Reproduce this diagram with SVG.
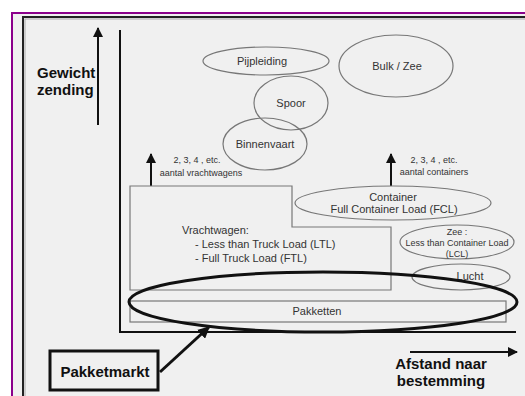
<svg xmlns="http://www.w3.org/2000/svg" width="525" height="396" viewBox="0 0 525 396">
<defs>
<style>
.ax{stroke:#111;stroke-width:2;fill:none}
.ell{fill:none;stroke:#777;stroke-width:1.2}
.box{fill:none;stroke:#777;stroke-width:1.2}
.lbl{font-family:"Liberation Sans",Arial,sans-serif;font-size:11px;fill:#333}
.sm{font-family:"Liberation Sans",Arial,sans-serif;font-size:9px;fill:#333}
.bold{font-family:"Liberation Sans",Arial,sans-serif;font-weight:bold;font-size:15px;fill:#111}
</style>
<marker id="ah" viewBox="0 0 10 10" refX="9" refY="5" markerWidth="5" markerHeight="5" orient="auto" markerUnits="strokeWidth">
<path d="M0,0 L10,5 L0,10 z" fill="#111"/>
</marker>
<marker id="ahs" viewBox="0 0 10 10" refX="9" refY="5" markerWidth="4" markerHeight="4" orient="auto" markerUnits="strokeWidth">
<path d="M0,0 L10,5 L0,10 z" fill="#111"/>
</marker>
</defs>
<rect x="0" y="0" width="525" height="396" fill="#fff"/>
<rect x="12" y="13" width="520" height="390" fill="#f0f0f0" stroke="#8b008b" stroke-width="2"/>
<rect x="23" y="17" width="510" height="390" fill="#f0f0f0" stroke="#222" stroke-width="2"/>
<rect x="25" y="19" width="510" height="390" fill="none" stroke="#aaa" stroke-width="1"/>

<g id="axes">
<line class="ax" x1="120" y1="30" x2="120" y2="332"/>
<line class="ax" x1="119" y1="332" x2="516" y2="332"/>
</g>

<g id="y-label">
<text class="bold" x="37" y="78" font-size="14">Gewicht</text>
<text class="bold" x="37" y="95" font-size="14">zending</text>
</g>
<g id="x-label">
<text class="bold" x="441" y="369" text-anchor="middle">Afstand naar</text>
<text class="bold" x="441" y="386" text-anchor="middle">bestemming</text>
</g>

<g id="connectors">
<line x1="98" y1="125" x2="98" y2="28" stroke="#111" stroke-width="2" marker-end="url(#ah)"/>
<line x1="410" y1="352" x2="517" y2="352" stroke="#111" stroke-width="2" marker-end="url(#ah)"/>
<line x1="151" y1="186" x2="151" y2="154" stroke="#111" stroke-width="2" marker-end="url(#ah)"/>
<line x1="391" y1="186" x2="391" y2="154" stroke="#111" stroke-width="2" marker-end="url(#ah)"/>
<line x1="160" y1="372" x2="209" y2="327" stroke="#111" stroke-width="3" marker-end="url(#ahs)"/>
</g>

<g id="trucks-note">
<text class="sm" x="197" y="163" text-anchor="middle">2, 3, 4 , etc.</text>
<text class="sm" x="201" y="176" text-anchor="middle">aantal vrachtwagens</text>
</g>
<g id="containers-note">
<text class="sm" x="434" y="163" text-anchor="middle">2, 3, 4 , etc.</text>
<text class="sm" x="434" y="175" text-anchor="middle">aantal containers</text>
</g>

<g id="pijpleiding">
<ellipse class="ell" cx="266" cy="61" rx="63" ry="14"/>
<text class="lbl" x="262" y="65" text-anchor="middle">Pijpleiding</text>
</g>
<g id="bulk">
<ellipse class="ell" cx="396" cy="66" rx="57" ry="31"/>
<text class="lbl" x="397" y="70" text-anchor="middle">Bulk / Zee</text>
</g>
<g id="spoor">
<ellipse class="ell" cx="291" cy="103" rx="37" ry="27"/>
<text class="lbl" x="291" y="107" text-anchor="middle">Spoor</text>
</g>
<g id="binnenvaart">
<ellipse class="ell" cx="265" cy="144" rx="42" ry="26"/>
<text class="lbl" x="265" y="148" text-anchor="middle">Binnenvaart</text>
</g>

<g id="vrachtwagen">
<polygon class="box" points="130,186 292,186 292,227 391,227 391,290 130,290"/>
<text class="lbl" x="182" y="234">Vrachtwagen:</text>
<text class="lbl" x="195" y="248">- Less than Truck Load (LTL)</text>
<text class="lbl" x="195" y="262">- Full Truck Load (FTL)</text>
</g>

<g id="container">
<ellipse class="ell" cx="393" cy="203" rx="98" ry="17"/>
<text class="lbl" x="393" y="201" text-anchor="middle">Container</text>
<text class="lbl" x="394" y="213" text-anchor="middle">Full Container Load (FCL)</text>
</g>

<g id="zee-lcl">
<ellipse class="ell" cx="457" cy="242" rx="57" ry="17"/>
<text class="sm" x="457" y="235" text-anchor="middle">Zee :</text>
<text class="sm" x="457" y="246" text-anchor="middle">Less than Container Load</text>
<text class="sm" x="457" y="257" text-anchor="middle">(LCL)</text>
</g>

<g id="lucht">
<ellipse class="ell" cx="461" cy="277" rx="49" ry="13"/>
<text class="lbl" x="470" y="280" text-anchor="middle">Lucht</text>
</g>

<g id="pakketten">
<rect class="box" x="130" y="301" width="376" height="21"/>
<text class="lbl" x="317" y="315" text-anchor="middle">Pakketten</text>
</g>

<g id="pakketmarkt-ellipse">
<ellipse cx="323" cy="302" rx="194" ry="30" fill="none" stroke="#111" stroke-width="3"/>
</g>

<g id="pakketmarkt">
<rect x="50" y="351" width="108" height="39" fill="none" stroke="#111" stroke-width="3"/>
<text class="bold" x="105" y="377" text-anchor="middle" font-size="17">Pakketmarkt</text>
</g>
</svg>
